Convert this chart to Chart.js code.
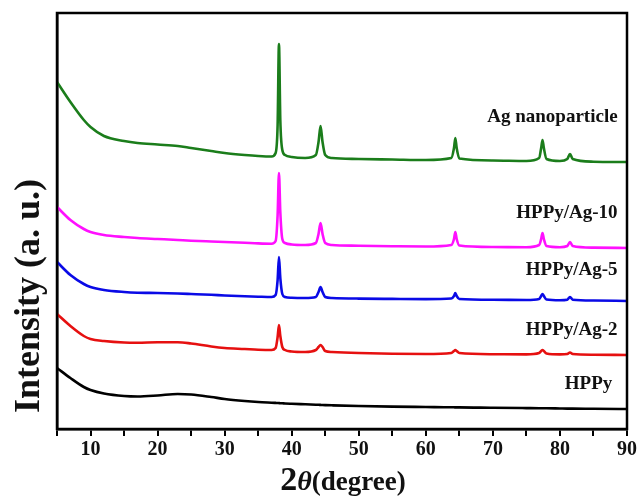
<!DOCTYPE html>
<html>
<head>
<meta charset="utf-8">
<script src="https://cdn.jsdelivr.net/npm/chart.js@4"></script>
<style>
  html, body { margin: 0; padding: 0; background: #fff; }
  #wrap { width: 640px; height: 498px; }
</style>
</head>
<body>
<div id="wrap"><canvas id="xrd"></canvas></div>
<script>
// 2-theta grid shared by every pattern (degrees)
const twoTheta = [5, 7, 9, 10, 12, 15, 17, 20, 23, 25, 28, 30, 33, 35, 37, 37.6, 37.9, 38.1, 38.3, 38.6,
  39, 40, 42, 43.6, 44.0, 44.3, 44.6, 45, 46, 50, 55, 60, 63.8, 64.2, 64.4, 64.6, 65, 70, 75, 76.9,
  77.2, 77.4, 77.6, 78, 80, 81.1, 81.5, 81.9, 85, 90];

// intensities (a. u., curves already offset as in the figure)
const agNano = [347, 327, 309, 302, 293, 288, 286, 284.5, 283, 281, 278, 276, 274, 273, 272.5, 276, 304, 385, 309, 279,
  274, 272, 271, 274, 287, 303, 287, 274, 271, 270, 269.5, 269, 271, 281, 291, 281, 270.5, 268.5, 268, 271,
  281, 289, 281, 270, 268, 270, 275, 270, 267.3, 267];
const hppyAg10 = [222, 209, 200, 197, 194, 192, 191, 190, 189, 188.3, 187.5, 187, 186.2, 185.6, 185.3, 188, 214, 256, 217, 190,
  186, 184.5, 184, 186, 195, 206, 195, 186, 184, 183.3, 182.8, 182.5, 184, 190, 197, 190, 183.5, 182, 181.8, 184,
  190, 196, 190, 183, 181.8, 183, 187, 183, 181.4, 181];
const hppyAg5 = [167, 154, 145, 142, 139, 137, 136.3, 136, 135.5, 135, 134.2, 133.5, 132.7, 132.3, 132, 134, 149, 172, 151, 135,
  132, 131.2, 131, 132, 137, 142, 137, 132, 131, 130.4, 130.1, 129.9, 130.5, 133, 136, 133, 130, 129.3, 129, 130,
  133, 135, 133, 129.5, 128.8, 129.3, 132, 129.3, 128.5, 128];
const hppyAg2 = [115, 103, 93, 90, 88, 86.5, 86.3, 86.8, 86.8, 85.5, 82.5, 81, 80, 79.3, 79, 81, 92, 104, 93, 82,
  79, 77.5, 77, 79, 82, 84, 82, 78, 77, 76, 75.3, 75, 76, 78, 79, 78, 76, 74.8, 74.6, 76,
  78, 79, 78, 75.5, 74.6, 75, 76.5, 75, 74.3, 74];
const hppy = [61, 51, 42, 39, 35.5, 33, 32.5, 33.5, 35, 34.5, 32, 30, 28, 27, 26.3, 26.1, 26, 25.9, 25.8, 25.7,
  25.5, 25.2, 24.7, 24.3, 24.2, 24.1, 24, 23.9, 23.7, 23, 22.4, 22, 21.7, 21.7, 21.6, 21.6, 21.6, 21.2, 20.9, 20.8,
  20.8, 20.7, 20.7, 20.7, 20.5, 20.4, 20.4, 20.4, 20.2, 20];

const seriesNames = ["Ag nanoparticle", "HPPy/Ag-10", "HPPy/Ag-5", "HPPy/Ag-2", "HPPy"];
const seriesData = [agNano, hppyAg10, hppyAg5, hppyAg2, hppy];
const seriesColors = ["#1b7d1b", "#ff10ff", "#0a0ae6", "#e61010", "#000000"];
// where each curve's name sits (2theta of right edge, intensity of text middle)
const labelAt = [[88.6, 312], [88.6, 216], [88.6, 159], [88.6, 99], [87.8, 45]];

const xTicks = [5, 10, 15, 20, 25, 30, 35, 40, 45, 50, 55, 60, 65, 70, 75, 80, 85, 90];

const SERIF = "'Liberation Serif', 'Times New Roman', serif";

const frameAndText = {
  id: "frameAndText",
  afterDraw(chart) {
    const { ctx, chartArea: a, scales } = chart;
    ctx.save();
    // frame
    ctx.strokeStyle = "#000";
    ctx.lineWidth = 2.5;
    ctx.strokeRect(a.left, a.top, a.right - a.left, a.bottom - a.top);

    // curve names
    ctx.fillStyle = "#111";
    ctx.font = "bold 19px " + SERIF;
    ctx.textAlign = "right";
    ctx.textBaseline = "middle";
    seriesNames.forEach((name, i) => {
      const px = scales.x.getPixelForValue(labelAt[i][0]);
      const py = scales.y.getPixelForValue(labelAt[i][1]);
      ctx.fillText(name, px, py);
    });

    // y title
    ctx.save();
    ctx.translate(30, 296);
    ctx.rotate(-Math.PI / 2);
    ctx.textAlign = "center";
    ctx.textBaseline = "middle";
    ctx.font = "bold 36px " + SERIF;
    ctx.fillText("Intensity (a. u.)", 0, 0);
    ctx.restore();

    // x title: 2θ(degree) with mixed fonts
    const parts = [
      ["2", "bold 34px " + SERIF],
      ["θ", "italic bold 28px " + SERIF],
      ["(degree)", "bold 27px " + SERIF],
    ];
    let total = 0;
    parts.forEach((p) => { ctx.font = p[1]; total += ctx.measureText(p[0]).width; });
    let x = 343 - total / 2;
    ctx.textAlign = "left";
    ctx.textBaseline = "alphabetic";
    parts.forEach((p) => {
      ctx.font = p[1];
      ctx.fillText(p[0], x, 490);
      x += ctx.measureText(p[0]).width;
    });
    ctx.restore();
  },
};

new Chart(document.getElementById("xrd"), {
  type: "line",
  data: {
    datasets: seriesNames.map((name, i) => ({
      label: name,
      data: twoTheta.map((t, j) => ({ x: t, y: seriesData[i][j] })),
      borderColor: seriesColors[i],
      borderWidth: 2.6,
      pointRadius: 0,
      cubicInterpolationMode: "monotone",
      fill: false,
    })),
  },
  options: {
    responsive: true,
    maintainAspectRatio: false,
    animation: false,
    layout: { padding: { top: 13, right: 13, left: 0, bottom: 0 } },
    plugins: {
      legend: { display: false },
      tooltip: { enabled: false },
    },
    scales: {
      x: {
        type: "linear",
        min: 5,
        max: 90,
        afterBuildTicks: (scale) => {
          scale.ticks = xTicks.map((v) => ({ value: v }));
        },
        afterFit: (scale) => { scale.height = 69; },
        grid: {
          drawOnChartArea: false,
          drawTicks: true,
          tickLength: 7,
          color: "#000",
          lineWidth: 2,
        },
        border: { display: true, color: "#000", width: 2.5 },
        ticks: {
          color: "#111",
          font: { family: SERIF, size: 20, weight: "bold" },
          padding: 2,
          maxRotation: 0,
          autoSkip: false,
          callback: (v) => (v % 10 === 0 ? String(v) : ""),
        },
      },
      y: {
        type: "linear",
        min: 0,
        max: 416,
        afterFit: (scale) => { scale.width = 57; },
        grid: { display: false },
        border: { display: true, color: "#000", width: 2.5 },
        ticks: { display: false },
      },
    },
  },
  plugins: [frameAndText],
});
</script>
</body>
</html>
